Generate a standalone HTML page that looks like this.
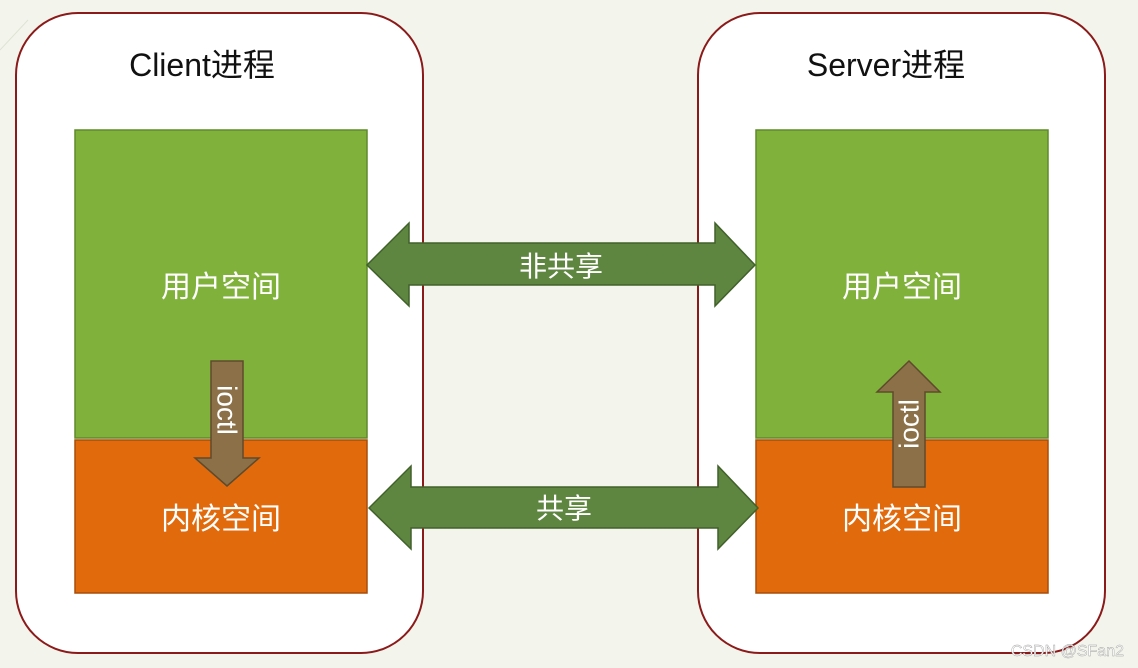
<!DOCTYPE html>
<html><head><meta charset="utf-8"><style>
body{margin:0;width:1138px;height:668px;overflow:hidden;background:#f3f5ec;}
svg{display:block}
text{font-family:"Liberation Sans","Noto Sans CJK SC",sans-serif;}
</style></head><body>
<svg width="1138" height="668" viewBox="0 0 1138 668">
<rect width="1138" height="668" fill="#f3f5ec"/>
<line x1="0" y1="50" x2="28" y2="20" stroke="#dfe3d5" stroke-width="1"/>
<rect x="16" y="13" width="407" height="640" rx="62" fill="#fff" stroke="#8b1a1a" stroke-width="2"/>
<rect x="698" y="13" width="407" height="640" rx="62" fill="#fff" stroke="#8b1a1a" stroke-width="2"/>
<text x="202" y="76" font-size="32" text-anchor="middle" fill="#111">Client进程</text>
<text x="886" y="76" font-size="32" text-anchor="middle" fill="#111">Server进程</text>
<rect x="75" y="130" width="292" height="308" fill="#80b13a" stroke="#5f8a2a" stroke-width="1.5"/>
<rect x="75" y="440" width="292" height="153" fill="#e06a0c" stroke="#a84d08" stroke-width="1.5"/>
<rect x="756" y="130" width="292" height="308" fill="#80b13a" stroke="#5f8a2a" stroke-width="1.5"/>
<rect x="756" y="440" width="292" height="153" fill="#e06a0c" stroke="#a84d08" stroke-width="1.5"/>
<text x="221" y="297" font-size="30" text-anchor="middle" fill="#fff">用户空间</text>
<text x="221" y="529" font-size="30" text-anchor="middle" fill="#fff">内核空间</text>
<text x="902" y="297" font-size="30" text-anchor="middle" fill="#fff">用户空间</text>
<text x="902" y="529" font-size="30" text-anchor="middle" fill="#fff">内核空间</text>
<polygon points="367,265 409,223 409,243 715,243 715,223 755,265 715,306 715,285 409,285 409,306" fill="#5e8640" stroke="#41612a" stroke-width="1.5"/>
<text x="561" y="276" font-size="28" text-anchor="middle" fill="#fff">非共享</text>
<polygon points="369,508 411,466 411,487 718,487 718,466 758,508 718,549 718,528 411,528 411,549" fill="#5e8640" stroke="#41612a" stroke-width="1.5"/>
<text x="564" y="518" font-size="28" text-anchor="middle" fill="#fff">共享</text>
<polygon points="211,361 243,361 243,458 259,458 227,486 195,458 211,458" fill="#8c7148" stroke="#5e4a2c" stroke-width="1.5"/>
<text transform="translate(227,410) rotate(90)" font-size="28" text-anchor="middle" dominant-baseline="central" fill="#fff">ioctl</text>
<polygon points="909,361 940,392 925,392 925,487 893,487 893,392 877,392" fill="#8c7148" stroke="#5e4a2c" stroke-width="1.5"/>
<text transform="translate(909,424) rotate(-90)" font-size="28" text-anchor="middle" dominant-baseline="central" fill="#fff">ioctl</text>
<text x="1124" y="656" font-size="16" text-anchor="end" fill="#fff" stroke="#999" stroke-width="0.4">CSDN @SFan2</text>
</svg>
</body></html>
